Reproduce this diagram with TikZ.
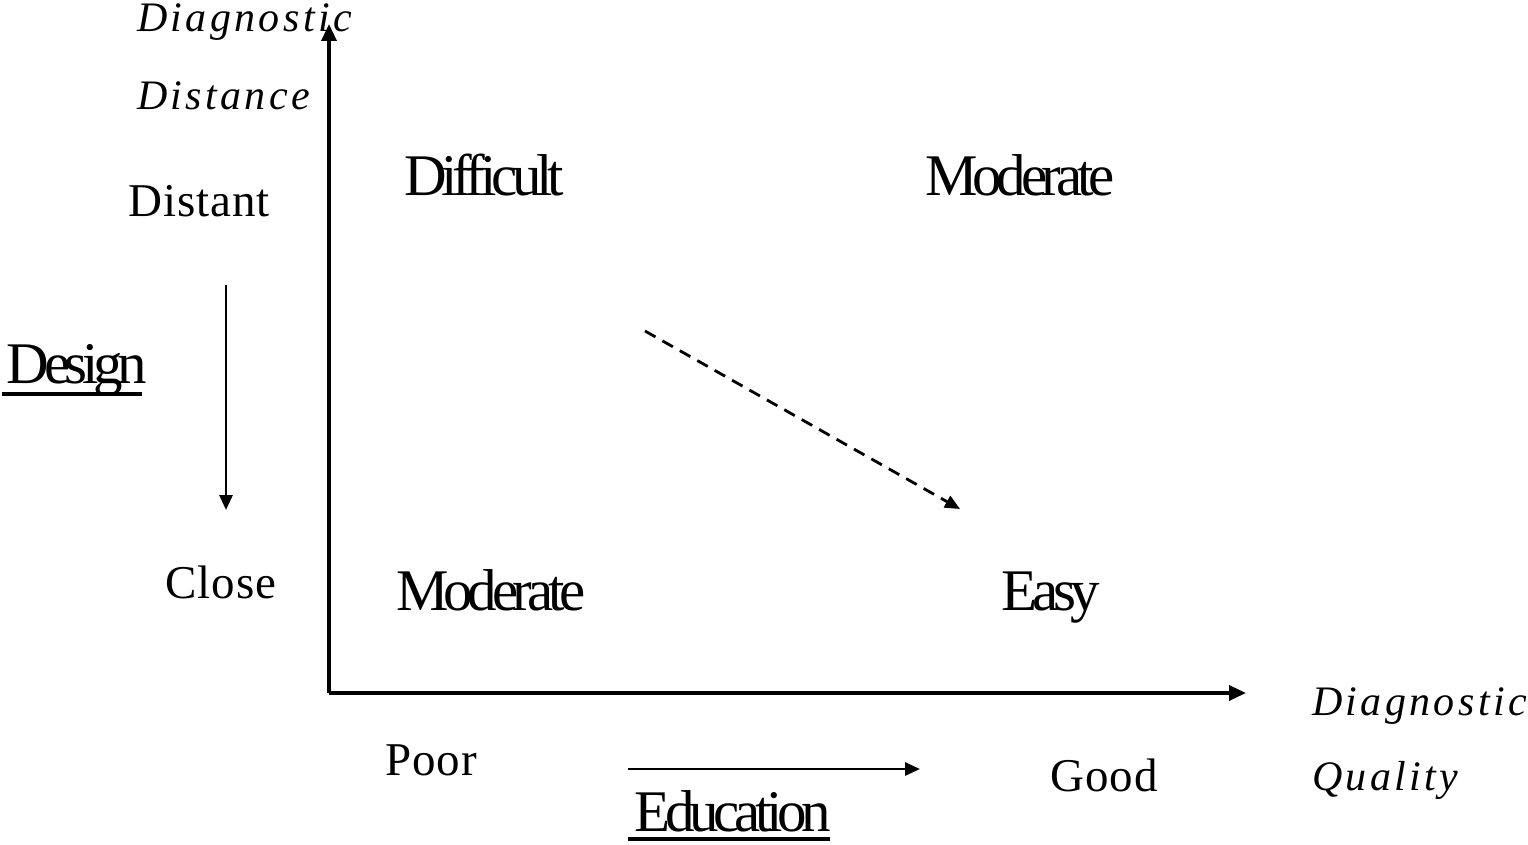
\documentclass[tikz,border=0pt]{standalone}
\usepackage{fontspec}
\setmainfont{Liberation Serif}
\usetikzlibrary{arrows.meta}

\begin{document}
\begin{tikzpicture}[
    x=1pt, y=-1pt,
    axislabel/.style={anchor=base west, inner sep=0pt, font=\fontsize{42}{42}\selectfont\itshape\addfontfeature{LetterSpace=8}},
    level/.style={anchor=base, inner sep=0pt, font=\fontsize{47}{47}\selectfont\addfontfeature{LetterSpace=2}},
    region/.style={anchor=base, inner sep=0pt, font=\fontsize{59}{59}\selectfont\addfontfeature{LetterSpace=-9}},
    axis/.style={line width=3.3pt, -{Triangle[length=17pt, width=15pt]}},
    trend/.style={line width=2.8pt, -{Triangle[length=15pt, width=13pt]}},
    uline/.style={line width=4pt}
  ]
    \useasboundingbox (0,0) rectangle (1528,845);
    % axes
    \coordinate (origin) at (329,693);
    \coordinate (ytop) at (329,24);
    \coordinate (xend) at (1246,693);
    \draw[axis] (origin) -- (ytop);
    \draw[axis] (origin) -- (xend);
    \node[axislabel] (ydiag) at (137,32) {Diagnostic};
    \node[axislabel] (ydist) at (137,110) {Distance};
    \node[axislabel] (xdiag) at (1312,715) {Diagnostic};
    \node[axislabel] (xqual) at (1312,790) {Quality};
    % levels
    \node[level] (distant) at (199,217) {Distant};
    \node[level] (close) at (221,598) {Close};
    \node[level] (poor) at (431,775) {Poor};
    \node[level] (good) at (1104,791) {Good};
    % quadrants
    \node[region] (difficult) at (484,196) {Difficult};
    \node[region] (modtop) at (1020,196) {Moderate};
    \node[region] (modbot) at (491,610) {Moderate};
    \node[region] (easy) at (1051,610) {Easy};
    % drivers
    \node[region] (design) at (77,383) {Design};
    \node[region] (education) at (733,831) {Education};
    \draw[uline] (2,394) -- (142,394);
    \draw[uline] (628,839) -- (830,839);
    \coordinate (dtop) at (226,285);
    \coordinate (dbot) at (226,510);
    \draw[trend] (dtop) -- (dbot);
    \coordinate (eleft) at (628,769);
    \coordinate (eright) at (920,769);
    \draw[trend] (eleft) -- (eright);
    \coordinate (dstart) at (645,331);
    \coordinate (dend) at (960,509);
    \draw[trend, dash pattern=on 12pt off 8pt] (dstart) -- (dend);
  \end{tikzpicture}
\end{document}
